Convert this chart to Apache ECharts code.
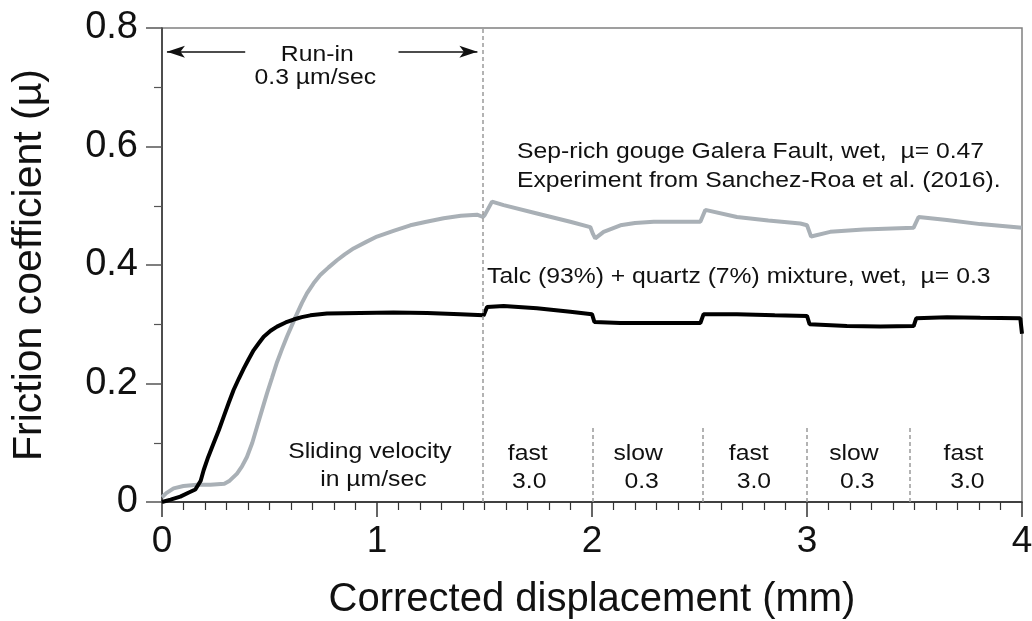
<!DOCTYPE html>
<html><head><meta charset="utf-8">
<script src="https://cdn.jsdelivr.net/npm/echarts@6/dist/echarts.min.js"></script>
<style>html,body{margin:0;padding:0;background:#fff}#chart{width:1032px;height:621px}</style>
</head><body><div id="chart"></div>
<script>
// ---- data ----
const talcDisp = [0, 0.04, 0.085, 0.125, 0.155, 0.18, 0.194, 0.215, 0.24, 0.265, 0.287, 0.31, 0.333, 0.357, 0.38, 0.403, 0.426, 0.45, 0.473, 0.505, 0.535, 0.575, 0.612, 0.65, 0.69, 0.767, 0.922, 1.077, 1.233, 1.387, 1.496, 1.512, 1.589, 1.744, 1.899, 2.0, 2.011, 2.132, 2.364, 2.504, 2.519, 2.674, 2.85, 3.0, 3.012, 3.186, 3.341, 3.496, 3.508, 3.651, 3.806, 3.992, 4.0];
const talcMu   = [0, 0.004, 0.009, 0.016, 0.021, 0.036, 0.054, 0.076, 0.099, 0.122, 0.144, 0.167, 0.189, 0.208, 0.225, 0.241, 0.256, 0.268, 0.279, 0.289, 0.296, 0.303, 0.308, 0.312, 0.315, 0.318, 0.319, 0.320, 0.319, 0.317, 0.315, 0.329, 0.331, 0.327, 0.321, 0.317, 0.304, 0.302, 0.302, 0.302, 0.317, 0.317, 0.315, 0.314, 0.300, 0.297, 0.296, 0.297, 0.310, 0.312, 0.311, 0.310, 0.284];

const sepDisp = [0, 0.02, 0.054, 0.1, 0.163, 0.225, 0.29, 0.315, 0.349, 0.372, 0.395, 0.42, 0.442, 0.465, 0.488, 0.512, 0.535, 0.558, 0.581, 0.605, 0.628, 0.651, 0.674, 0.705, 0.736, 0.775, 0.814, 0.85, 0.891, 0.95, 1.0, 1.08, 1.155, 1.23, 1.31, 1.39, 1.465, 1.493, 1.502, 1.535, 1.589, 1.744, 1.899, 1.992, 2.005, 2.015, 2.054, 2.132, 2.2, 2.287, 2.504, 2.527, 2.674, 2.82, 2.969, 3.0, 3.012, 3.019, 3.108, 3.263, 3.496, 3.519, 3.651, 3.806, 4.0];
const sepMu   = [0.008, 0.015, 0.023, 0.027, 0.029, 0.029, 0.031, 0.036, 0.048, 0.06, 0.076, 0.1, 0.127, 0.155, 0.183, 0.21, 0.236, 0.258, 0.279, 0.299, 0.318, 0.336, 0.352, 0.369, 0.383, 0.396, 0.408, 0.418, 0.428, 0.439, 0.448, 0.458, 0.467, 0.473, 0.479, 0.483, 0.485, 0.481, 0.485, 0.507, 0.501, 0.487, 0.473, 0.464, 0.452, 0.445, 0.456, 0.467, 0.471, 0.473, 0.473, 0.493, 0.481, 0.475, 0.470, 0.467, 0.455, 0.448, 0.456, 0.460, 0.463, 0.481, 0.476, 0.469, 0.463];

const stepLineX   = [1.49, 2.005, 2.515, 3.0, 3.48];
const stepLineTop = [0.8, 0.13, 0.13, 0.13, 0.13];
const speedNames  = ['fast', 'slow', 'fast', 'slow', 'fast'];
const speedValues = ['3.0', '0.3', '3.0', '0.3', '3.0'];

// ---- annotation anchors (data coordinates) ----
const speedNameX  = [1.701, 2.215, 2.729, 3.218, 3.728];
const speedValueX = [1.708, 2.231, 2.753, 3.234, 3.746];
const annotations = [
  {text: 'Run-in', x: 0.722, y: 0.754, align: 'center'},
  {text: '0.3 \u00b5m/sec', x: 0.713, y: 0.715, align: 'center'},
  {text: 'Sep-rich gouge Galera Fault, wet,  \u00b5= 0.47', x: 1.651, y: 0.590, align: 'left'},
  {text: 'Experiment from Sanchez-Roa et al. (2016).', x: 1.651, y: 0.542, align: 'left'},
  {text: 'Talc (93%) + quartz (7%) mixture, wet,  \u00b5= 0.3', x: 1.512, y: 0.380, align: 'left'},
  {text: 'Sliding velocity', x: 0.967, y: 0.0844, align: 'center'},
  {text: 'in \u00b5m/sec', x: 0.983, y: 0.0366, align: 'center'}
];
speedNames.forEach((t, i) => annotations.push({text: t, x: speedNameX[i], y: 0.0817, align: 'center'}));
speedValues.forEach((t, i) => annotations.push({text: t, x: speedValueX[i], y: 0.0338, align: 'center'}));

const FONT = '"Liberation Sans", Arial, Helvetica, sans-serif';
const chart = echarts.init(document.getElementById('chart'), null, {renderer: 'canvas'});

const zip = (xs, ys) => xs.map((x, i) => [x, ys[i]]);

const option = {
  animation: false,
  backgroundColor: '#fff',
  grid: {left: 162, right: 10, top: 28, bottom: 119, show: true, borderColor: '#808080', borderWidth: 1.5,
         backgroundColor: 'transparent', containLabel: false, outerBoundsMode: 'none'},
  xAxis: {
    type: 'value', min: 0, max: 4, interval: 1,
    axisLine: {onZero: false, lineStyle: {color: '#222', width: 1.5}},
    axisTick: {length: 15, lineStyle: {color: '#333', width: 1.5}},
    minorTick: {show: true, splitNumber: 10, length: 8, lineStyle: {color: '#333', width: 1.2}},
    splitLine: {show: false},
    axisLabel: {fontSize: 37, color: '#111', margin: 21, fontFamily: FONT, hideOverlap: false},
    name: 'Corrected displacement (mm)', nameLocation: 'middle', nameGap: 78,
    nameTextStyle: {fontSize: 40, color: '#111', fontFamily: FONT}
  },
  yAxis: {
    type: 'value', min: 0, max: 0.8, interval: 0.2,
    axisLine: {onZero: false, lineStyle: {color: '#333', width: 1.5}},
    axisTick: {length: 16, lineStyle: {color: '#555', width: 1.5}},
    minorTick: {show: true, splitNumber: 2, length: 8, lineStyle: {color: '#555', width: 1.2}},
    splitLine: {show: false},
    axisLabel: {fontSize: 38, color: '#111', margin: 24, fontFamily: FONT},
    name: 'Friction coefficient (\u00b5)', nameLocation: 'middle', nameRotate: 90, nameGap: 112,
    nameTextStyle: {fontSize: 41, color: '#111', fontFamily: FONT}
  },
  series: [
    {
      name: 'Sep-rich gouge', type: 'line', data: zip(sepDisp, sepMu), showSymbol: false,
      lineStyle: {color: '#a9b0b6', width: 4}, silent: true, z: 2,
      markLine: {
        silent: true, symbol: ['none', 'none'], label: {show: false},
        lineStyle: {color: '#9a9a9a', width: 1.5, type: [4, 3]},
        data: stepLineX.map((x, i) => [{coord: [x, 0]}, {coord: [x, stepLineTop[i]]}])
      }
    },
    {
      name: 'Talc + quartz', type: 'line', data: zip(talcDisp, talcMu), showSymbol: false,
      lineStyle: {color: '#000', width: 4}, silent: true, z: 3,
      markLine: {
        silent: true, symbol: ['none', 'arrow'], symbolSize: [9, 18], label: {show: false},
        lineStyle: {color: '#111', width: 1.5, type: 'solid'},
        data: [
          [{coord: [0.387, 0.76]}, {coord: [0.023, 0.76]}],
          [{coord: [1.1, 0.76]}, {coord: [1.467, 0.76]}]
        ]
      }
    }
  ]
};
chart.setOption(option);

const graphics = annotations.map(a => {
  const p = chart.convertToPixel({xAxisIndex: 0, yAxisIndex: 0}, [a.x, a.y]);
  return {
    type: 'text', x: p[0], y: p[1], scaleX: 1.15, silent: true, z: 10,
    style: {text: a.text, font: '21.5px ' + FONT, fill: '#111',
            align: a.align, verticalAlign: 'middle', textAlign: a.align, textVerticalAlign: 'middle'}
  };
});
chart.setOption({graphic: graphics});
</script>
</body></html>
